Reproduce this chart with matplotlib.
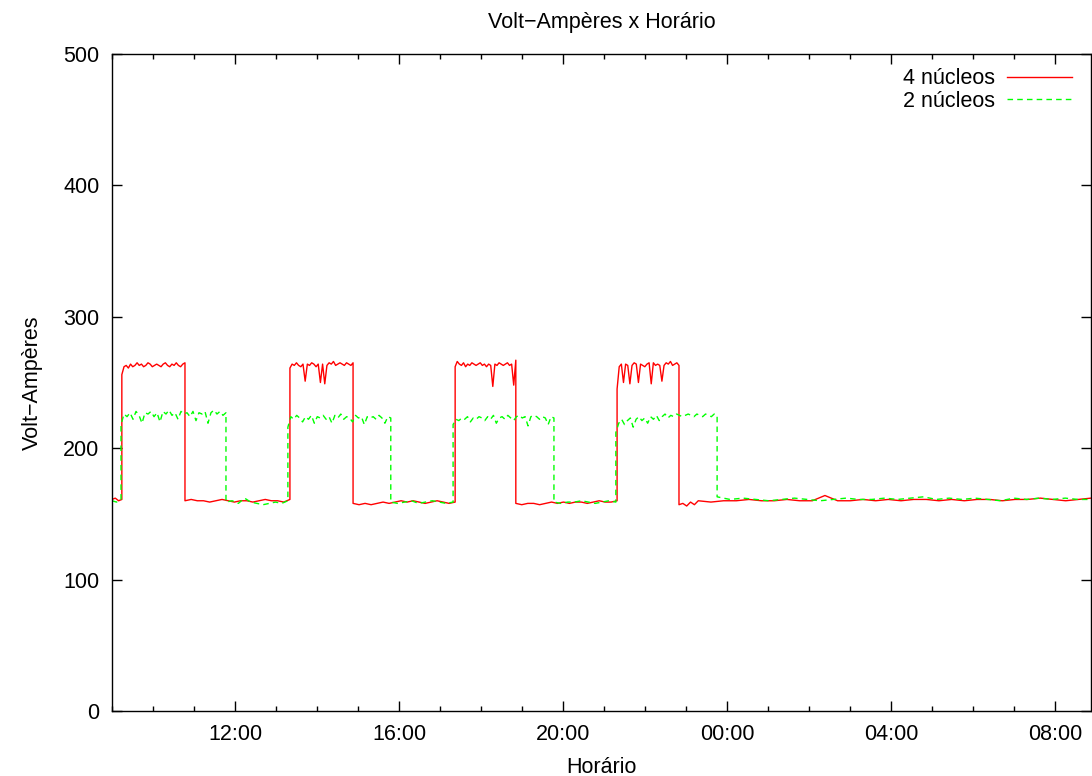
import matplotlib
matplotlib.use("Agg")
import matplotlib.pyplot as plt
import matplotlib.dates as mdates
import numpy as np
import pandas as pd

plt.rcParams["font.family"] = ["Liberation Sans", "DejaVu Sans"]

# horas desde 00:00 do primeiro dia (valores > 24 = dia seguinte)
x_start, x_end = 9.0, 32.88

# 4 nucleos: limites dos trechos e leituras de cada trecho
red_breaks = [9.00, 9.24, 10.78, 13.34, 14.88, 17.37, 18.85, 21.32, 22.83, 23.30, 32.88]
red_r0 = [161, 162, 160, 161]
red_r1 = [256, 262, 263, 261, 264, 262, 263, 265, 263, 264, 262, 263, 265, 264, 262, 263, 264, 263, 262, 264, 265, 263,
          262, 264, 263, 265, 263, 262, 264, 265]
red_r2 = [160, 161, 160, 160, 159, 160, 161, 160, 159, 160, 160, 159, 160, 161, 160, 160, 159, 161]
red_r3 = [261, 264, 263, 265, 263, 262, 264, 251, 264, 263, 265, 264, 262, 264, 250, 264, 249, 263, 265, 264, 266, 263,
          264, 265, 264, 263, 265, 264, 263, 265]
red_r4 = [158, 157, 158, 157, 158, 159, 158, 159, 160, 159, 160, 159, 158, 159, 160, 159, 158, 159]
red_r5 = [262, 266, 264, 263, 265, 262, 264, 263, 265, 264, 263, 264, 265, 263, 264, 262, 264, 263, 247, 264, 263, 265,
          264, 263, 264, 265, 263, 264, 248, 267]
red_r6 = [158, 157, 158, 158, 157, 158, 159, 158, 159, 158, 159, 159, 158, 159, 160, 159, 159, 160]
red_r7 = [245, 262, 264, 250, 264, 263, 249, 263, 265, 264, 250, 264, 263, 262, 264, 265, 249, 265, 263, 264, 263, 251,
          263, 265, 264, 266, 263, 264, 265, 263]
red_r8 = [157, 158, 156, 159, 157, 160]
red_r9 = [160, 159, 160, 160, 161, 160, 160, 161, 160, 160, 164, 160, 160, 161, 160, 161, 160, 161,
          161, 160, 161, 160, 161, 161, 160, 161, 161, 162, 161, 160, 161, 162]

# 2 nucleos
green_breaks = [9.00, 9.22, 11.78, 13.29, 15.80, 17.32, 19.78, 21.29, 23.76, 32.88]
green_g0 = [160, 159, 161]
green_g1 = [218, 226, 224, 227, 222, 228, 225, 219, 227, 226, 228, 224, 227, 220, 228, 226, 229, 225, 227, 222,
            228, 226, 227, 224, 228, 221, 227, 226, 228, 219, 227, 229, 226, 228, 225, 227]
green_g2 = [159, 160, 158, 162, 159, 158, 157, 158, 159, 158, 160]
green_g3 = [216, 224, 222, 225, 223, 220, 224, 222, 225, 219, 224, 223, 225, 222, 224, 219, 225, 223, 226, 222,
            224, 223, 220, 225, 223, 224, 218, 224, 223, 224, 222, 225, 223, 219, 224, 223]
green_g4 = [159, 158, 159, 160, 158, 159, 160, 159, 158, 159]
green_g5 = [218, 222, 221, 223, 222, 224, 220, 223, 222, 224, 223, 221, 224, 222, 225, 219, 223, 224, 222, 225,
            223, 221, 224, 225, 223, 224, 217, 224, 225, 224, 222, 224, 223, 218, 224, 223]
green_g6 = [159, 158, 159, 159, 160, 159, 158, 159, 160, 159]
green_g7 = [212, 219, 222, 218, 221, 223, 216, 222, 224, 221, 223, 219, 224, 222, 225, 221, 224, 226, 223, 225,
            224, 226, 225, 224, 225, 226, 225, 224, 226, 225, 224, 226, 225, 224, 226, 225]
green_g8 = [163, 161, 162, 161, 160, 161, 162, 161, 160, 161, 162, 161, 161, 162, 161, 162, 163, 161, 162, 161,
            162, 161, 160, 162, 161, 162, 161, 162, 161, 161]

red_segments = [red_r0, red_r1, red_r2, red_r3, red_r4, red_r5, red_r6, red_r7, red_r8, red_r9]
green_segments = [green_g0, green_g1, green_g2, green_g3, green_g4, green_g5, green_g6, green_g7, green_g8]

base = pd.Timestamp("2011-01-01")


def build(breaks, segments):
    """Junta os trechos: cada trecho ocupa [breaks[i], breaks[i+1]]."""
    hrs, vals = [], []
    for i, seg in enumerate(segments):
        hrs.extend(np.linspace(breaks[i], breaks[i + 1], len(seg)))
        vals.extend(seg)
    t = base + pd.to_timedelta(np.array(hrs), unit="h")
    return t, np.array(vals)


t_red, v_red = build(red_breaks, red_segments)
t_green, v_green = build(green_breaks, green_segments)

fs = 15.5
fig = plt.figure(figsize=(10.92, 7.76), dpi=100)
ax = fig.add_axes([112 / 1092, 65 / 776, 979 / 1092, 657 / 776])

ax.plot(t_red, v_red, color="#ff0000", lw=1.0, label="4 núcleos")
ax.plot(t_green, v_green, color="#00ff00", lw=1.0, ls=(0, (4, 3)), label="2 núcleos")

ax.set_xlim(base + pd.Timedelta(hours=x_start), base + pd.Timedelta(hours=x_end))
ax.set_ylim(0, 500)
ax.set_yticks([0, 100, 200, 300, 400, 500])
ax.xaxis.set_major_locator(mdates.HourLocator(byhour=[0, 4, 8, 12, 16, 20]))
ax.xaxis.set_minor_locator(mdates.HourLocator())
ax.xaxis.set_major_formatter(mdates.DateFormatter("%H:%M"))

ax.tick_params(which="both", direction="in", top=True, right=True, labelsize=fs, width=1.0)
ax.tick_params(which="major", length=7, pad=9)
ax.tick_params(which="minor", length=3.5)
for s in ax.spines.values():
    s.set_linewidth(1.0)

ax.set_title("Volt\u2212Ampères x Horário", fontsize=fs, pad=19)
ax.set_xlabel("Horário", fontsize=fs, labelpad=9)
ax.set_ylabel("Volt\u2212Ampères", fontsize=fs, labelpad=14.5)

ax.legend(loc="upper right", bbox_to_anchor=(1.0, 1.0 + 4.5 / 657), frameon=False,
          markerfirst=False, fontsize=fs, handlelength=3.0, handletextpad=0.6,
          labelspacing=0.05, borderaxespad=0.48)

fig.savefig("out.png", dpi=100)
